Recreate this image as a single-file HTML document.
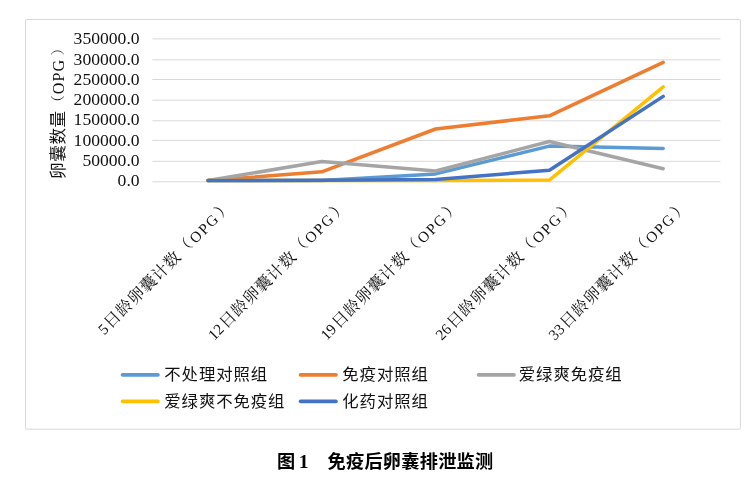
<!DOCTYPE html>
<html lang="zh-CN">
<head>
<meta charset="utf-8">
<title>图1 免疫后卵囊排泄监测</title>
<style>
html,body{margin:0;padding:0;background:#fff;}
body{width:756px;height:485px;overflow:hidden;position:relative;}
svg{position:absolute;left:0;top:0;display:block;}
.ytick{font-family:"Liberation Serif","Noto Serif CJK SC",serif;font-size:17.6px;fill:#111;}
.xcjk{font-family:"Liberation Serif","Noto Serif CJK SC",serif;font-size:16.2px;fill:#111;}
.xpar{font-family:"Liberation Serif","Noto Serif CJK SC",serif;font-size:15.2px;fill:#111;}
.xlat{font-family:"Liberation Serif",serif;font-size:15.2px;fill:#111;}
.ytitle{font-family:"Liberation Serif","Noto Sans CJK SC",sans-serif;font-size:16.6px;fill:#111;}
.leg{font-family:"Liberation Sans","Noto Sans CJK SC",sans-serif;font-size:16.4px;fill:#111;letter-spacing:0.9px;}
.ypar{font-family:"Liberation Serif","Noto Serif CJK SC",serif;font-size:14px;}
.yopg{font-family:"Liberation Serif",serif;font-size:16.2px;}
.cap{font-family:"Liberation Serif","Noto Sans CJK SC",sans-serif;font-size:18.2px;font-weight:bold;fill:#000;}
</style>
</head>
<body>
<svg width="756" height="485" viewBox="0 0 756 485">
  <!-- chart border -->
  <rect x="25.5" y="19.5" width="715" height="409.7" rx="1.5" fill="#fff" stroke="#d9d9d9" stroke-width="1"/>

  <!-- gridlines -->
  <g stroke="#d9d9d9" stroke-width="1">
    <line x1="152.4" x2="720.4" y1="38.9" y2="38.9"/>
    <line x1="152.4" x2="720.4" y1="59.8" y2="59.8"/>
    <line x1="152.4" x2="720.4" y1="79.5" y2="79.5"/>
    <line x1="152.4" x2="720.4" y1="100.2" y2="100.2"/>
    <line x1="152.4" x2="720.4" y1="120.8" y2="120.8"/>
    <line x1="152.4" x2="720.4" y1="140.4" y2="140.4"/>
    <line x1="152.4" x2="720.4" y1="161.3" y2="161.3"/>
    <line x1="152.4" x2="720.4" y1="181.8" y2="181.8"/>
  </g>

  <!-- y tick labels -->
  <g class="ytick" text-anchor="end">
    <text x="139.6" y="44.3">350000.0</text>
    <text x="139.6" y="64.6">300000.0</text>
    <text x="139.6" y="84.9">250000.0</text>
    <text x="139.6" y="105.1">200000.0</text>
    <text x="139.6" y="125.3">150000.0</text>
    <text x="139.6" y="145.6">100000.0</text>
    <text x="139.6" y="165.8">50000.0</text>
    <text x="139.6" y="186.0">0.0</text>
  </g>

  <!-- y axis title -->
  <g class="ytitle">
    <text transform="translate(63.5,179) rotate(-90)" letter-spacing="0.6">卵囊数量</text>
    <text class="ypar" transform="translate(62,109.2) rotate(-90)">（</text>
    <text class="yopg" transform="translate(63.6,94.3) rotate(-90)" letter-spacing="1">OPG</text>
    <text class="ypar" transform="translate(62,55.2) rotate(-90)">）</text>
  </g>

  <!-- series -->
  <g fill="none" stroke-width="3.5" stroke-linecap="round" stroke-linejoin="round">
    <polyline stroke="#5B9BD5" points="208,180.6 321.8,180.6 435.6,173.9 549.4,146.1 663.2,148.4"/>
    <polyline stroke="#ED7D31" points="208,180.6 321.8,171.8 435.6,129 549.4,115.8 663.2,62.4"/>
    <polyline stroke="#A5A5A5" points="208,180.6 321.8,161.5 435.6,171 549.4,141.5 663.2,168.7"/>
    <polyline stroke="#FFC000" points="208,180.6 321.8,180.6 435.6,180.6 549.4,180.1 663.2,86.8"/>
    <polyline stroke="#4472C4" points="208,180.6 321.8,180.3 435.6,179.4 549.4,170.2 663.2,96.4"/>
  </g>

  <!-- x labels -->
  <g>
    <g transform="translate(219.90,219.90) rotate(-45)">
      <text class="xlat" x="-156.0" text-anchor="end">5</text>
      <text class="xcjk" x="-154.60 -137.70 -120.80 -103.90 -87.00 -70.10">日龄卵囊计数</text>
      <text class="xpar" x="-52.1" y="-0.9">（</text>
      <text class="xlat" x="-34.50 -21.94 -11.90">OPG</text>
      <text class="xpar" x="2.6" y="-0.3">）</text>
    </g>
    <g transform="translate(335.20,219.90) rotate(-45)">
      <text class="xlat" x="-156.0" text-anchor="end">12</text>
      <text class="xcjk" x="-154.60 -137.70 -120.80 -103.90 -87.00 -70.10">日龄卵囊计数</text>
      <text class="xpar" x="-52.1" y="-0.9">（</text>
      <text class="xlat" x="-34.50 -21.94 -11.90">OPG</text>
      <text class="xpar" x="2.6" y="-0.3">）</text>
    </g>
    <g transform="translate(447.70,219.90) rotate(-45)">
      <text class="xlat" x="-156.0" text-anchor="end">19</text>
      <text class="xcjk" x="-154.60 -137.70 -120.80 -103.90 -87.00 -70.10">日龄卵囊计数</text>
      <text class="xpar" x="-52.1" y="-0.9">（</text>
      <text class="xlat" x="-34.50 -21.94 -11.90">OPG</text>
      <text class="xpar" x="2.6" y="-0.3">）</text>
    </g>
    <g transform="translate(562.70,219.90) rotate(-45)">
      <text class="xlat" x="-156.0" text-anchor="end">26</text>
      <text class="xcjk" x="-154.60 -137.70 -120.80 -103.90 -87.00 -70.10">日龄卵囊计数</text>
      <text class="xpar" x="-52.1" y="-0.9">（</text>
      <text class="xlat" x="-34.50 -21.94 -11.90">OPG</text>
      <text class="xpar" x="2.6" y="-0.3">）</text>
    </g>
    <g transform="translate(675.90,219.90) rotate(-45)">
      <text class="xlat" x="-156.0" text-anchor="end">33</text>
      <text class="xcjk" x="-154.60 -137.70 -120.80 -103.90 -87.00 -70.10">日龄卵囊计数</text>
      <text class="xpar" x="-52.1" y="-0.9">（</text>
      <text class="xlat" x="-34.50 -21.94 -11.90">OPG</text>
      <text class="xpar" x="2.6" y="-0.3">）</text>
    </g>
  </g>

  <!-- legend -->
  <g stroke-width="3.6" stroke-linecap="round">
    <line x1="122.5" x2="158" y1="374.9" y2="374.9" stroke="#5B9BD5"/>
    <line x1="300.5" x2="336" y1="374.9" y2="374.9" stroke="#ED7D31"/>
    <line x1="478.5" x2="514" y1="374.9" y2="374.9" stroke="#A5A5A5"/>
    <line x1="122.5" x2="158" y1="401.4" y2="401.4" stroke="#FFC000"/>
    <line x1="300.5" x2="336" y1="401.4" y2="401.4" stroke="#4472C4"/>
  </g>
  <g class="leg">
    <text x="164.3" y="379.5">不处理对照组</text>
    <text x="342.3" y="379.5">免疫对照组</text>
    <text x="518.8" y="379.5">爱绿爽免疫组</text>
    <text x="164.3" y="407">爱绿爽不免疫组</text>
    <text x="342.3" y="407">化药对照组</text>
  </g>

  <!-- caption -->
  <g class="cap">
    <text x="277" y="467.5">图</text>
    <text x="298.8" y="467.8" style="font-size:19.8px">1</text>
    <text x="327.5" y="467.5" letter-spacing="0.25">免疫后卵囊排泄监测</text>
  </g>
</svg>
</body>
</html>
